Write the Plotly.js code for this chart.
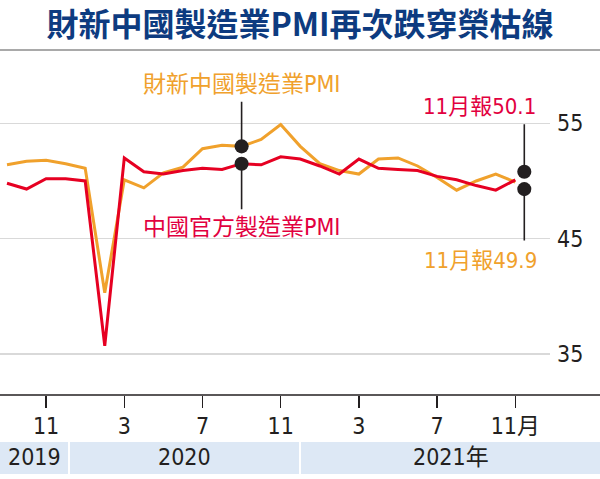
<!DOCTYPE html>
<html>
<head>
<meta charset="utf-8">
<script src="https://cdn.plot.ly/plotly-3.0.1.min.js"></script>
<style>
  html, body { margin: 0; padding: 0; background: #fff; }
  #chart { width: 600px; height: 479px; }
</style>
</head>
<body>
<div id="chart"></div>
<script>
// months from Sep 2019 to Nov 2021
const months = [
  '2019-09', '2019-10', '2019-11', '2019-12',
  '2020-01', '2020-02', '2020-03', '2020-04', '2020-05', '2020-06',
  '2020-07', '2020-08', '2020-09', '2020-10', '2020-11', '2020-12',
  '2021-01', '2021-02', '2021-03', '2021-04', '2021-05', '2021-06',
  '2021-07', '2021-08', '2021-09', '2021-10', '2021-11'
];
const caixin = [
  51.4, 51.7, 51.8, 51.5,
  51.1, 40.3, 50.1, 49.4, 50.7, 51.2, 52.8, 53.1, 53.0, 53.6, 54.9, 53.0,
  51.5, 50.9, 50.6, 51.9, 52.0, 51.3, 50.3, 49.2, 50.0, 50.6, 49.9
];
const official = [
  49.8, 49.3, 50.2, 50.2,
  50.0, 35.7, 52.0, 50.8, 50.6, 50.9, 51.1, 51.0, 51.5, 51.4, 52.1, 51.9,
  51.3, 50.6, 51.9, 51.1, 51.0, 50.9, 50.4, 50.1, 49.6, 49.2, 50.1
];
const tickMonths = ['2019-11', '2020-03', '2020-07', '2020-11', '2021-03', '2021-07', '2021-11'];
const tickText = ['11', '3', '7', '11', '3', '7', '11月'];
const years = ['2019', '2020', '2021年'];
const yTicks = [35, 45, 55];

const ORANGE = '#f0a12c';
const RED = '#e60022';
const RED_TXT = '#e2003f';
const INK = '#231f20';
const NUM = '"Liberation Sans Narrow", "DejaVu Sans Condensed", "Noto Sans CJK TC", sans-serif';

// layout geometry (px)
const M = { l: 0, r: 50, t: 60, b: 84 };
const plotW = 600 - M.l - M.r, plotH = 479 - M.t - M.b;
const px = x => (x - M.l) / plotW;
const py = y => (479 - M.b - y) / plotH;

const traces = [
  {
    x: months, y: caixin, type: 'scatter', mode: 'lines',
    line: { color: ORANGE, width: 3 }, hoverinfo: 'skip'
  },
  {
    x: months, y: official, type: 'scatter', mode: 'lines',
    line: { color: RED, width: 3 }, hoverinfo: 'skip'
  }
];

// year strip under the axis
const bandEdges = [[0, 68], [70, 299], [301, 600]];
const shapes = [
  { type: 'line', xref: 'paper', yref: 'paper', x0: px(0), x1: px(600), y0: py(50), y1: py(50),
    line: { color: '#8c8c8c', width: 1.5 } },
  { type: 'line', xref: 'paper', yref: 'paper', x0: px(0), x1: px(600), y0: 0, y1: 0,
    line: { color: INK, width: 1.5 } }
];
const annotations = [];
bandEdges.forEach((e, i) => {
  shapes.push({ type: 'rect', xref: 'paper', yref: 'paper', layer: 'below',
    x0: px(e[0]), x1: px(e[1]), y0: py(474), y1: py(442),
    fillcolor: '#dde8f5', line: { width: 0 } });
  annotations.push({ xref: 'paper', yref: 'paper', x: px((e[0] + e[1]) / 2), y: py(457),
    text: years[i], showarrow: false, xanchor: 'center', yanchor: 'middle',
    font: { family: NUM, size: 23, color: INK } });
});

// callouts
const last = months.length - 1;
const sep = months.indexOf('2020-09');
const dot = { showarrow: true, arrowhead: 6, arrowsize: 2.2, arrowwidth: 1.6, arrowcolor: INK };
annotations.push(
  Object.assign({ x: months[sep], y: caixin[sep], ax: 0, ay: -62, text: '財新中國製造業PMI',
    startstandoff: 3, font: { family: NUM, size: 23, color: ORANGE } }, dot),
  Object.assign({ x: months[sep], y: official[sep], ax: 0, ay: 63, text: '中國官方製造業PMI',
    startstandoff: 3, font: { family: NUM, size: 23, color: RED_TXT } }, dot),
  Object.assign({ x: months[last], y: official[last], xshift: 9, yshift: 8, ax: 0, ay: -49, text: '' }, dot),
  Object.assign({ x: months[last], y: caixin[last], xshift: 9, yshift: -7, ax: 0, ay: 53, text: '' }, dot),
  { x: months[last], y: official[last], xshift: -36, yshift: 73, showarrow: false,
    text: '11月報' + official[last].toFixed(1),
    font: { family: NUM, size: 22, color: RED_TXT } },
  { x: months[last], y: caixin[last], xshift: -35, yshift: -78, showarrow: false,
    text: '11月報' + caixin[last].toFixed(1),
    font: { family: NUM, size: 22, color: ORANGE } }
);

const layout = {
  width: 600, height: 479,
  margin: M,
  paper_bgcolor: '#fff', plot_bgcolor: '#fff',
  showlegend: false,
  title: {
    text: '<b>財新中國製造業PMI再次跌穿榮枯線</b>',
    xref: 'container', yref: 'container', x: 0.5, y: 1 - 25 / 479,
    xanchor: 'center', yanchor: 'middle',
    font: { family: '"Noto Sans CJK TC", sans-serif', size: 32, color: '#0d3b80' }
  },
  xaxis: {
    type: 'category',
    range: [-7 / 19.55, (plotW - 7) / 19.55],
    tickvals: tickMonths, ticktext: tickText,
    ticks: 'outside', ticklen: 12, tickwidth: 1.5, tickcolor: INK,
    ticklabelstandoff: -2,
    showgrid: false, showline: false, zeroline: false,
    tickfont: { family: NUM, size: 23, color: INK },
    fixedrange: true
  },
  yaxis: {
    side: 'right',
    range: [31.44, 60.49],
    tickvals: yTicks,
    ticks: '', ticklabelstandoff: 6,
    showgrid: true, gridcolor: '#d9d9d9', gridwidth: 1.5,
    showline: false, zeroline: false,
    tickfont: { family: NUM, size: 23, color: INK },
    fixedrange: true
  },
  shapes: shapes,
  annotations: annotations
};

Plotly.newPlot('chart', traces, layout, { displayModeBar: false, staticPlot: true });
</script>
</body>
</html>
